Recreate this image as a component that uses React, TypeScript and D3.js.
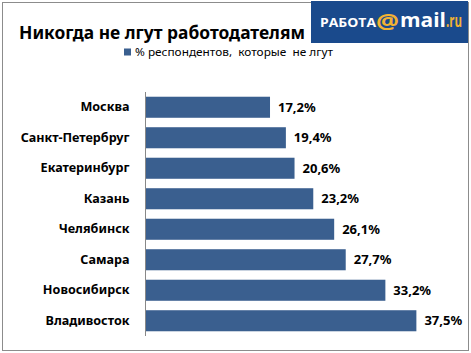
import React, { useEffect, useRef } from 'react';
import * as d3 from 'd3';

const cities = ['Москва', 'Санкт-Петербруг', 'Екатеринбург', 'Казань', 'Челябинск', 'Самара', 'Новосибирск', 'Владивосток'];
const values = [17.2, 19.4, 20.6, 23.2, 26.1, 27.7, 33.2, 37.5];
const seriesName = '% респондентов,  которые  не лгут';
const title = 'Никогда не лгут работодателям';

const W = 471;
const H = 353;

const App: React.FC = () => {
  const svgRef = useRef<SVGSVGElement | null>(null);

  useEffect(() => {
    if (!svgRef.current) return;
    const svg = d3.select(svgRef.current);
    svg.selectAll('*').remove();

    const font = '"Noto Sans", "Open Sans", sans-serif';
    const barColor = '#3a5f8f';

    svg.append('rect').attr('width', W).attr('height', H).attr('fill', '#fff');

    // outer frame
    svg.append('rect')
      .attr('x', 2.5).attr('y', 2.5)
      .attr('width', 466).attr('height', 348)
      .attr('fill', 'none')
      .attr('stroke', '#8c8c8c')
      .attr('stroke-width', 1);

    // title
    svg.append('text')
      .attr('x', 19).attr('y', 39)
      .attr('font-family', font)
      .attr('font-weight', 'bold')
      .attr('font-size', 18)
      .attr('textLength', 286)
      .attr('lengthAdjust', 'spacingAndGlyphs')
      .attr('fill', '#000')
      .text(title);

    // logo block
    const logo = svg.append('g').attr('transform', 'translate(311,1)');
    logo.append('rect').attr('width', 157).attr('height', 42).attr('fill', '#1a4a8c');
    const logoFont = '"Open Sans", "Noto Sans", sans-serif';
    logo.append('text')
      .attr('x', 9).attr('y', 25.5)
      .attr('font-family', logoFont).attr('font-weight', 'bold')
      .attr('font-size', 11.5).attr('fill', '#fff')
      .attr('textLength', 56).attr('lengthAdjust', 'spacingAndGlyphs')
      .text('РАБОТА');
    logo.append('text')
      .attr('x', 65).attr('y', 28)
      .attr('font-family', logoFont).attr('font-weight', 'bold')
      .attr('font-size', 21).attr('fill', '#f2b233')
      .attr('textLength', 23).attr('lengthAdjust', 'spacingAndGlyphs')
      .text('@');
    logo.append('text')
      .attr('x', 89).attr('y', 26)
      .attr('font-family', logoFont).attr('font-weight', 'bold')
      .attr('font-size', 19).attr('fill', '#fff')
      .attr('textLength', 46).attr('lengthAdjust', 'spacingAndGlyphs')
      .text('mail');
    logo.append('text')
      .attr('x', 135).attr('y', 26)
      .attr('font-family', logoFont).attr('font-weight', 'bold')
      .attr('font-size', 18).attr('fill', '#f2b233')
      .attr('textLength', 16).attr('lengthAdjust', 'spacingAndGlyphs')
      .text('.ru');

    // legend
    svg.append('rect')
      .attr('x', 124).attr('y', 48.5)
      .attr('width', 7).attr('height', 7)
      .attr('fill', barColor);
    svg.append('text')
      .attr('x', 135).attr('y', 56)
      .attr('font-family', font)
      .attr('font-size', 11.5)
      .attr('textLength', 198)
      .attr('lengthAdjust', 'spacingAndGlyphs')
      .attr('fill', '#000')
      .style('white-space', 'pre')
      .text(seriesName);

    // scales
    const x = d3.scaleLinear().domain([0, 40]).range([146, 146 + 40 * 7.21]);
    const y = d3.scaleBand<string>().domain(cities).range([92, 336]).paddingInner(0.31).paddingOuter(0.155);

    const g = svg.append('g');
    g.selectAll('rect.bar')
      .data(cities)
      .enter()
      .append('rect')
      .attr('class', 'bar')
      .attr('x', x(0))
      .attr('y', d => y(d)!)
      .attr('width', (d, i) => x(values[i]) - x(0))
      .attr('height', y.bandwidth())
      .attr('fill', barColor);

    g.selectAll('text.val')
      .data(cities)
      .enter()
      .append('text')
      .attr('class', 'val')
      .attr('x', (d, i) => x(values[i]) + 8)
      .attr('y', d => y(d)! + y.bandwidth() / 2)
      .attr('dy', '0.36em')
      .attr('font-family', font)
      .attr('font-weight', 'bold')
      .attr('font-size', 13)
      .attr('fill', '#000')
      .text((d, i) => `${values[i].toFixed(1).replace('.', ',')}%`);

    // category axis
    const axis = d3.axisLeft(y).tickSize(0).tickPadding(16);
    const ax = svg.append('g').attr('transform', `translate(${x(0) - 0.5},0)`).call(axis);
    ax.select('.domain').attr('stroke', '#888').attr('d', 'M0,92V336');
    ax.selectAll('text')
      .attr('font-family', font)
      .attr('font-weight', 'bold')
      .attr('font-size', 12.6)
      .attr('fill', '#000');
  }, []);

  return <svg ref={svgRef} width={W} height={H} style={{ display: 'block', position: 'absolute', left: 0, top: 0 }} />;
};

export default App;
